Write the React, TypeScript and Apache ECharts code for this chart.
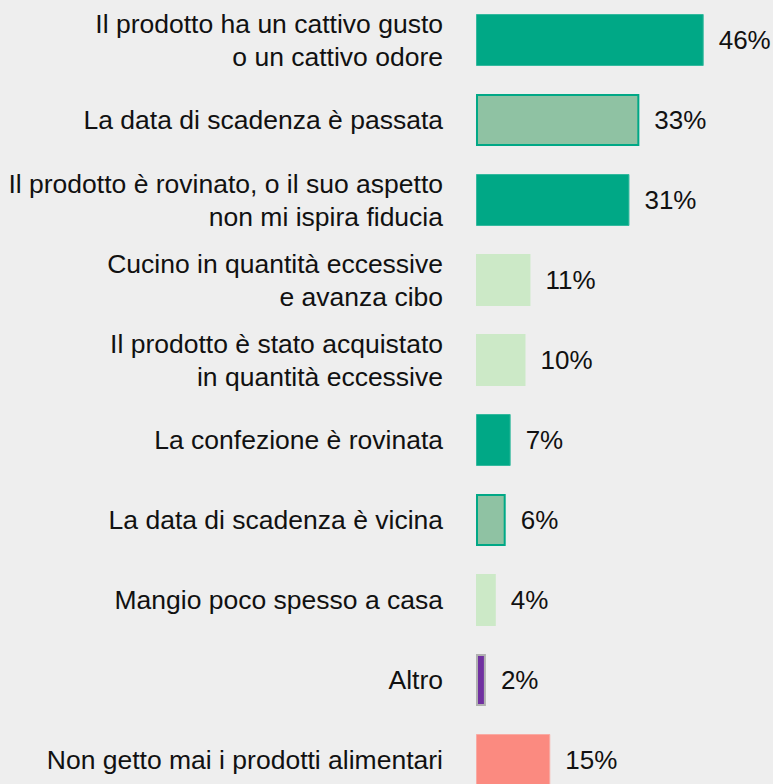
import React, { useEffect, useRef } from "react";
import * as echarts from "echarts";

const categories = [
  "Il prodotto ha un cattivo gusto\no un cattivo odore",
  "La data di scadenza è passata",
  "Il prodotto è rovinato, o il suo aspetto\nnon mi ispira fiducia",
  "Cucino in quantità eccessive\ne avanza cibo",
  "Il prodotto è stato acquistato\nin quantità eccessive",
  "La confezione è rovinata",
  "La data di scadenza è vicina",
  "Mangio poco spesso a casa",
  "Altro",
  "Non getto mai i prodotti alimentari",
];

const values = [46, 33, 31, 11, 10, 7, 6, 4, 2, 15];

const barStyles = [
  { color: "#00a886", borderColor: "#33b99e", borderWidth: 1 },
  { color: "#8fc2a3", borderColor: "#00a886", borderWidth: 2 },
  { color: "#00a886", borderColor: "#33b99e", borderWidth: 1 },
  { color: "#cce9c7", borderColor: "#cce9c7", borderWidth: 0 },
  { color: "#cce9c7", borderColor: "#cce9c7", borderWidth: 0 },
  { color: "#00a886", borderColor: "#33b99e", borderWidth: 1 },
  { color: "#8fc2a3", borderColor: "#00a886", borderWidth: 2 },
  { color: "#cce9c7", borderColor: "#cce9c7", borderWidth: 0 },
  { color: "#7030a0", borderColor: "#b0b0b0", borderWidth: 2 },
  { color: "#fb8a80", borderColor: "#f9aaa3", borderWidth: 1 },
];

const FONT = "'Liberation Sans', Arial, Helvetica, sans-serif";

export default function App() {
  const ref = useRef<HTMLDivElement>(null);

  useEffect(() => {
    document.body.style.margin = "0";
    document.body.style.overflow = "hidden";
    document.body.style.background = "#eeeeee";
    if (!ref.current) return;
    const chart = echarts.init(ref.current, undefined, { renderer: "svg" });
    chart.setOption({
      animation: false,
      backgroundColor: "#eeeeee",
      grid: { left: 476, right: 49.5, top: 0, bottom: 0, containLabel: false },
      xAxis: {
        type: "value",
        min: 0,
        max: 50,
        show: false,
        splitLine: { show: false },
      },
      yAxis: {
        type: "category",
        inverse: true,
        data: categories,
        axisLine: { show: false },
        axisTick: { show: false },
        axisLabel: {
          margin: 33,
          fontSize: 26.5,
          lineHeight: 33,
          color: "#111111",
          fontFamily: FONT,
          align: "right",
        },
      },
      series: [
        {
          type: "bar",
          barWidth: 52,
          data: values.map((v, i) => ({ value: v, itemStyle: barStyles[i] })),
          label: {
            show: true,
            position: "right",
            distance: 15,
            formatter: "{c}%",
            fontSize: 26,
            color: "#111111",
            fontFamily: FONT,
          },
        },
      ],
    });
    return () => chart.dispose();
  }, []);

  return (
    <div
      ref={ref}
      style={{ position: "fixed", top: 0, left: 0, width: 773, height: 800, background: "#eeeeee" }}
    />
  );
}
